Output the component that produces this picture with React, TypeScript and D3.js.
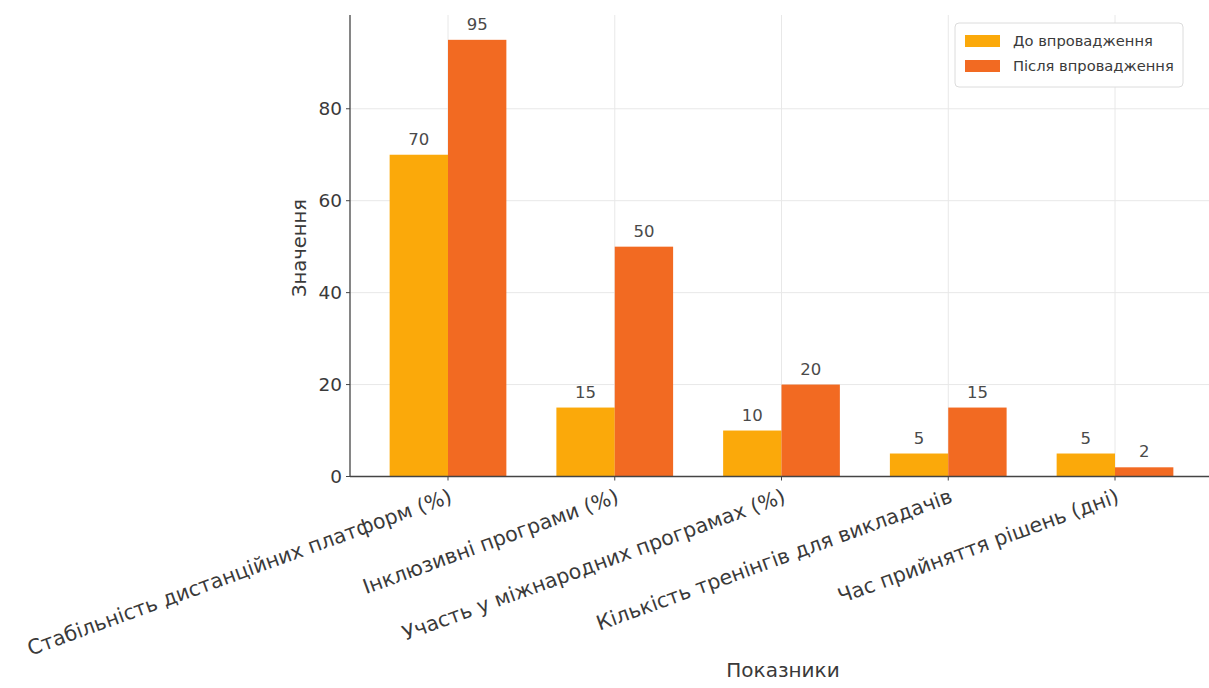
import React from "react";
import * as d3 from "d3";

const categories = [
  "Стабільність дистанційних платформ (%)",
  "Інклюзивні програми (%)",
  "Участь у міжнародних програмах (%)",
  "Кількість тренінгів для викладачів",
  "Час прийняття рішень (дні)",
];
const seriesNames = ["До впровадження", "Після впровадження"];
const beforeValues = [70, 15, 10, 5, 5];
const afterValues = [95, 50, 20, 15, 2];
const yTicks = [0, 20, 40, 60, 80];
const colors = ["#FBA90A", "#F26A22"];

const W = 1209;
const H = 688;
const FONT = "DejaVu Sans, sans-serif";

export default function App() {
  const left = 350;
  const bottom = 476.5;
  const top = 15;
  const step = 166.75;
  const x0 = 448;
  const x = d3
    .scaleLinear()
    .domain([-0.588, 4.588])
    .range([x0 - 0.588 * step, x0 + 4.588 * step]);
  const y = d3.scaleLinear().domain([0, 100.4]).range([bottom, top]);
  const bw = 0.35;
  const series = [beforeValues, afterValues];
  const textColor = "#3a3a3a";

  return (
    <svg
      width={W}
      height={H}
      style={{ position: "absolute", left: 0, top: 0, background: "#fff" }}
      fontFamily={FONT}
    >
      {/* grid */}
      {yTicks.map((t) => (
        <line key={"gy" + t} x1={left} x2={W} y1={y(t)} y2={y(t)} stroke="#e8e8e8" strokeWidth={1} />
      ))}
      {categories.map((c, i) => (
        <line key={"gx" + i} x1={x(i)} x2={x(i)} y1={top} y2={bottom} stroke="#e8e8e8" strokeWidth={1} />
      ))}
      {/* bars */}
      {series.map((vals, s) =>
        vals.map((v, i) => {
          const xl = x(i + (s === 0 ? -bw : 0));
          const xr = x(i + (s === 0 ? 0 : bw));
          return (
            <g key={`b${s}-${i}`}>
              <rect x={xl} y={y(v)} width={xr - xl} height={bottom - y(v)} fill={colors[s]} />
              <text
                x={(xl + xr) / 2}
                y={y(v) - 10}
                textAnchor="middle"
                fontSize={16.5}
                fill="#4a4a4a"
              >
                {v}
              </text>
            </g>
          );
        })
      )}
      {/* axes */}
      <line x1={left} x2={left} y1={top} y2={bottom} stroke="#444" strokeWidth={1.3} />
      <line x1={left} x2={W} y1={bottom} y2={bottom} stroke="#444" strokeWidth={1.3} />
      {yTicks.map((t) => (
        <g key={"yt" + t}>
          <line x1={left - 4} x2={left} y1={y(t)} y2={y(t)} stroke="#444" />
          <text x={left - 8} y={y(t)} dy="0.36em" textAnchor="end" fontSize={18.5} fill={textColor}>
            {t}
          </text>
        </g>
      ))}
      {categories.map((c, i) => (
        <g key={"xt" + i}>
          <line x1={x(i)} x2={x(i)} y1={bottom} y2={bottom + 4} stroke="#444" />
          <text
            transform={`translate(${x(i)},${bottom + 11}) rotate(-20)`}
            textAnchor="end"
            dy="0.75em"
            fontSize={20.5}
            fill={textColor}
          >
            {c}
          </text>
        </g>
      ))}
      <text x={783} y={677} textAnchor="middle" fontSize={20} fill={textColor}>
        Показники
      </text>
      <text
        transform={`translate(306,248) rotate(-90)`}
        textAnchor="middle"
        fontSize={19.5}
        fill={textColor}
      >
        Значення
      </text>
      {/* legend */}
      <g>
        <rect x={955} y={23} width={228} height={64} rx={4} fill="#fff" stroke="#dcdcdc" />
        {seriesNames.map((n, i) => (
          <g key={"lg" + i}>
            <rect x={965} y={35 + i * 25} width={35} height={12} fill={colors[i]} />
            <text x={1013} y={41 + i * 25} dy="0.35em" fontSize={14.7} fill={textColor}>
              {n}
            </text>
          </g>
        ))}
      </g>
    </svg>
  );
}
